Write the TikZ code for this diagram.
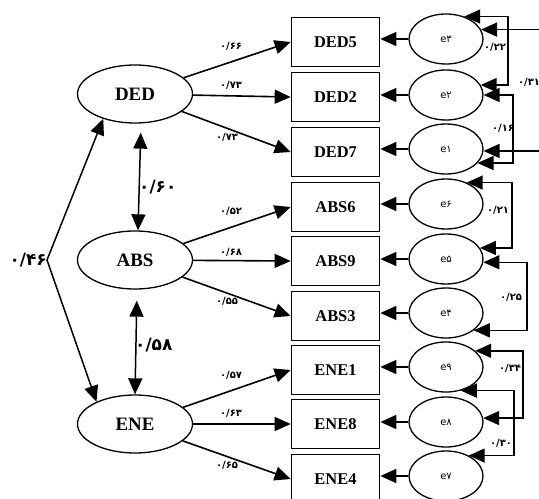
\documentclass[tikz,border=0pt]{standalone}
\usepackage{fontspec}
\setmainfont{Liberation Serif}
\newfontfamily\fa{DejaVu Sans}
\usetikzlibrary{arrows.meta,shapes.geometric}
\begin{document}
\begin{tikzpicture}[x=1bp,y=-1bp,
  lat/.style={ellipse,draw,line width=1.3bp,minimum width=115bp,minimum height=58bp,inner sep=0pt,font=\fontsize{19}{19}\selectfont\bfseries},
  obs/.style={rectangle,draw,line width=1.7bp,minimum width=88bp,minimum height=49bp,inner sep=0pt,font=\fontsize{16.5}{16.5}\selectfont\bfseries},
  err/.style={ellipse,draw,line width=1.3bp,minimum width=74bp,minimum height=50bp,inner sep=0pt,font=\fa\fontsize{10}{10}\selectfont},
  arr/.style={line width=1.6bp,-{Triangle[length=16bp,width=14bp]}},
  darr/.style={line width=1.5bp,{Triangle[length=16bp,width=14bp]}-{Triangle[length=16bp,width=14bp]}},
  lbl/.style={font=\fa\bfseries\fontsize{10}{10}\selectfont,inner sep=0pt},
  biglbl/.style={font=\fa\bfseries\fontsize{17}{17}\selectfont,inner sep=0pt}
]
\useasboundingbox (0,0) rectangle (539,499);
% latent
\node[lat] (DED) at (135,94) {DED};
\node[lat] (ABS) at (135,260) {ABS};
\node[lat] (ENE) at (135,424) {ENE};
% observed
\node[obs] (DED5) at (335.5,42) {DED5};
\node[obs] (DED2) at (335.5,97) {DED2};
\node[obs] (DED7) at (335.5,152) {DED7};
\node[obs] (ABS6) at (335.5,207) {ABS6};
\node[obs] (ABS9) at (335.5,261) {ABS9};
\node[obs] (ABS3) at (335.5,316) {ABS3};
\node[obs] (ENE1) at (335.5,370) {ENE1};
\node[obs] (ENE8) at (335.5,424) {ENE8};
\node[obs] (ENE4) at (335.5,479) {ENE4};
% errors
\node[err] (e3) at (446,39) {e۳};
\node[err] (e2) at (446,95) {e۲};
\node[err] (e1) at (446,149) {e۱};
\node[err] (e6) at (446,204) {e۶};
\node[err] (e5) at (446,259) {e۵};
\node[err] (e4) at (446,313) {e۴};
\node[err] (e9) at (446,367) {e۹};
\node[err] (e8) at (446,422) {e۸};
\node[err] (e7) at (446,476) {e۷};
% loadings
\draw[arr] (DED) -- (DED5.west);
\draw[arr] (DED) -- (DED2.west);
\draw[arr] (DED) -- (DED7.west);
\draw[arr] (ABS) -- (ABS6.west);
\draw[arr] (ABS) -- (ABS9.west);
\draw[arr] (ABS) -- (ABS3.west);
\draw[arr] (ENE) -- (ENE1.west);
\draw[arr] (ENE) -- (ENE8.west);
\draw[arr] (ENE) -- (ENE4.west);
\node[lbl] (l1) at (231,46) {۰/۶۶};
\node[lbl] (l2) at (231,85) {۰/۷۳};
\node[lbl] (l3) at (227,137) {۰/۷۳};
\node[lbl] (l4) at (231,211) {۰/۵۲};
\node[lbl] (l5) at (231,252) {۰/۶۸};
\node[lbl] (l6) at (227,301) {۰/۵۵};
\node[lbl] (l7) at (231,375) {۰/۵۷};
\node[lbl] (l8) at (231,413) {۰/۶۳};
\node[lbl] (l9) at (227,465) {۰/۶۵};
% error arrows
\foreach \e/\b in {e3/DED5,e2/DED2,e1/DED7,e6/ABS6,e5/ABS9,e4/ABS3,e9/ENE1,e8/ENE8,e7/ENE4}
  \draw[arr] (\e) -- (\e -| \b.east);
% correlations
\draw[darr,shorten <=9bp] ([xshift=6bp]DED.south) -- ([xshift=3bp]ABS.north);
\draw[darr,shorten <=11bp] ([xshift=2bp]ABS.south) -- (ENE.north);
\coordinate (k) at (47,260);
\draw[darr] (DED.218) -- (k) -- (ENE.150);
\node[biglbl,anchor=west] (c1) at (139,187) {۰/۶۰};
\node[biglbl,anchor=west] (c2) at (135,345) {۰/۵۸};
\node[biglbl,anchor=east] (c3) at (k) {۰/۴۶};
% error covariances
\coordinate (x0) at (552,0);
\coordinate (x1) at (508,0);
\coordinate (x2) at (513,0);
\coordinate (x3) at (512,0);
\coordinate (x4) at (527,0);
\coordinate (x5) at (523,0);
\coordinate (x6) at (514,0);
\draw[darr] (e3.51) -- (e3.51 -| x1) -- (e2.16 -| x1) -- (e2.16);
\draw[darr] (e3.15) -- (e3.15 -| x0) -- (e1.357 -| x0) -- (e1.357);
\draw[darr] (e2.east) -- (e2.east -| x2) -- (e1.336 -| x2) -- (e1.336);
\draw[darr] (e6.46) -- (e6.46 -| x3) -- (e5.18 -| x3) -- (e5.18);
\draw[darr] (e5.355) -- (e5.355 -| x4) -- (e4.328 -| x4) -- (e4.328);
\draw[darr] (e9.29) -- (e9.29 -| x5) -- (e8.6 -| x5) -- (e8.6);
\draw[darr] (e9.302) -- (e9.302 -| x6) -- (e7.42 -| x6) -- (e7.42);
\node[lbl] (r1) at (495,47) {۰/۲۲};
\node[lbl] (r2) at (529,82) {۰/۳۱};
\node[lbl] (r3) at (503,128) {۰/۱۶};
\node[lbl] (r4) at (498,210) {۰/۲۱};
\node[lbl] (r5) at (511,297) {۰/۲۵};
\node[lbl] (r6) at (510,368) {۰/۳۴};
\node[lbl] (r7) at (501,443) {۰/۳۰};
\end{tikzpicture}
\end{document}
